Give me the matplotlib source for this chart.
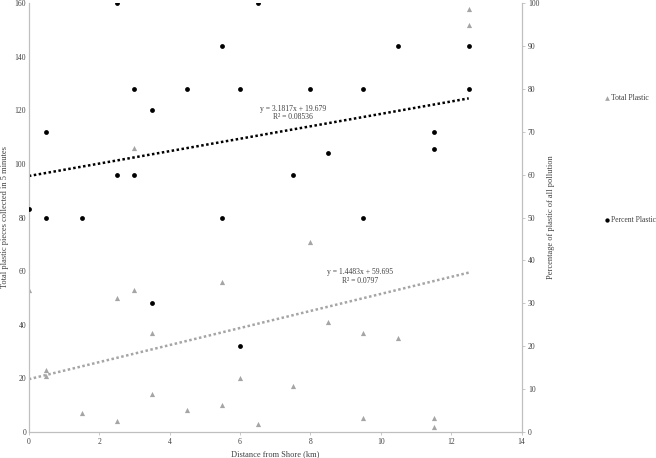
# plastico vs distancia a la costa -- dos ejes (total y porcentaje)
import numpy as np
import matplotlib.pyplot as plt

plt.rcParams['font.family'] = ['Liberation Serif', 'DejaVu Serif']

# ----------- datos -----------
dist_total = [0, 0.5, 0.5, 1.5, 2.5, 2.5, 3, 3, 3.5, 3.5, 4.5, 5.5, 5.5, 6,
              6.5, 7.5, 8, 8.5, 9.5, 9.5, 10.5, 11.5, 11.5, 12.5, 12.5]
total_plastic = [53, 23, 21, 7, 50, 4, 53, 106, 37, 14, 8, 56, 10, 20,
                 3, 17, 71, 41, 37, 5, 35, 5, 2, 158, 152]

dist_pct = [0, 0.5, 0.5, 1.5, 2.5, 2.5, 3, 3, 3.5, 3.5, 4.5, 5.5, 5.5, 6, 6,
            6.5, 7.5, 8, 8.5, 9.5, 9.5, 10.5, 11.5, 11.5, 12.5, 12.5]
pct_plastic = [52, 70, 50, 50, 100, 60, 80, 60, 75, 30, 80, 90, 50, 80, 20,
               100, 60, 80, 65, 80, 50, 90, 70, 66, 90, 80]

# lineas de tendencia (coeficientes de la figura)
fit_total = (3.1817, 19.679)
fit_pct = (1.4483, 59.695)
x_fit = [0, 12.5]

GRIS = '#a5a5a5'
EJE = '#bfbfbf'

fig = plt.figure(figsize=(6.56, 4.58), dpi=100)
ax = fig.add_axes([0.044, 0.057, 0.751, 0.936])
ax2 = ax.twinx()

ax.scatter(dist_total, total_plastic, marker='^', s=14, color=GRIS,
           linewidths=0, label='Total Plastic', zorder=3)
ax2.scatter(dist_pct, pct_plastic, marker='o', s=12, color='black',
            linewidths=0, label='Percent Plastic', zorder=3)

xf = np.array(x_fit)
ax.plot(xf, fit_total[0] * xf + fit_total[1], ls=(0, (1, 1)), lw=1.8,
        color=GRIS, zorder=2)
ax2.plot(xf, fit_pct[0] * xf + fit_pct[1], ls=(0, (1, 1)), lw=1.8,
         color='black', zorder=2)

# etiquetas de ecuaciones (como en el original)
ax.text(7.5, 119, 'y = 3.1817x + 19.679\nR² = 0.08536', fontsize=5.5,
        ha='center', va='center', color='#404040', linespacing=1.1)
ax.text(9.4, 58, 'y = 1.4483x + 59.695\nR² = 0.0797', fontsize=5.5,
        ha='center', va='center', color='#404040', linespacing=1.1)

ax.set_xlim(0, 14)
ax.set_ylim(0, 160)
ax2.set_ylim(0, 100)
ax.set_xticks(range(0, 15, 2))
ax.set_yticks(range(0, 161, 20))
ax2.set_yticks(range(0, 101, 10))

for a in (ax, ax2):
    a.spines['top'].set_visible(False)
    for s in ('left', 'right', 'bottom'):
        a.spines[s].set_color(EJE)
        a.spines[s].set_linewidth(0.8)
    a.tick_params(labelsize=5.5, colors='#404040', length=2.5,
                  width=0.6, pad=2)
    a.tick_params(color=EJE)
ax.tick_params(axis='y', length=0)

ax.set_xlabel('Distance from Shore (km)', fontsize=6, color='#404040',
              labelpad=3)
ax.set_ylabel('Total plastic pieces collected in 5 minutes', fontsize=6,
              color='#404040')
ax.yaxis.set_label_coords(-0.041, 0.5)
ax2.set_ylabel('Percentage of plastic of all pollution', fontsize=6,
               color='#404040')
ax2.yaxis.set_label_coords(1.052, 0.5)

h1, l1 = ax.get_legend_handles_labels()
h2, l2 = ax2.get_legend_handles_labels()
fig.legend(h1 + h2, l1 + l2, loc='upper left', bbox_to_anchor=(0.91, 0.81),
           frameon=False, fontsize=5.5, labelspacing=15.0, handletextpad=0.1,
           handlelength=0.8, markerscale=0.9, labelcolor='#404040')

plt.savefig('out.png', dpi=100)
